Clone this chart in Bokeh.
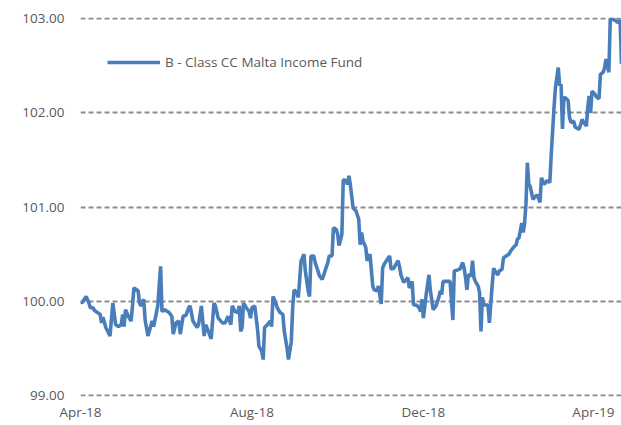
import pandas as pd
from bokeh.plotting import figure
from bokeh.models import Range1d, FixedTicker, PrintfTickFormatter, DatetimeTickFormatter, Legend, LegendItem, ColumnDataSource
from bokeh.embed import file_html
from bokeh.resources import INLINE

series_name = "B - Class CC Malta Income Fund"
start_date = "2018-04-01"

# day offset from 2018-04-01
day_offsets = [
    0, 1, 4, 6, 7, 9, 10, 12, 14, 15, 16, 18, 21, 23, 25, 27, 29, 30, 31, 32,
    34, 36, 37, 38, 41, 42, 43, 45, 46, 48, 51, 52, 55, 57, 58, 60, 63, 65, 66, 68,
    70, 71, 73, 75, 77, 78, 80, 83, 84, 86, 88, 89, 91, 93, 95, 96, 98, 101, 103, 105,
    107, 108, 110, 112, 113, 114, 115, 116, 118, 120, 121, 122, 124, 126, 127, 129, 130, 131, 133, 135,
    136, 137, 139, 140, 142, 144, 145, 147, 148, 150, 151, 152, 154, 155, 157, 158, 159, 160, 162, 163,
    164, 166, 167, 169, 170, 172, 174, 176, 177, 179, 180, 182, 183, 184, 186, 187, 189, 190, 191, 192,
    194, 196, 198, 199, 200, 201, 203, 204, 206, 208, 209, 211, 212, 214, 215, 216, 219, 220, 221, 223,
    226, 227, 228, 230, 232, 233, 234, 236, 237, 239, 241, 242, 243, 244, 246, 248, 249, 251, 253, 255,
    256, 257, 258, 261, 263, 265, 266, 268, 270, 272, 273, 274, 275, 276, 278, 279, 280, 281, 283, 284,
    285, 286, 287, 288, 290, 291, 293, 294, 295, 297, 298, 300, 301, 303, 305, 306, 307, 308, 310, 311,
    312, 314, 315, 316, 317, 318, 319, 320, 322, 323, 325, 327, 328, 330, 331, 332, 334, 335, 337, 338,
    340, 341, 342, 343, 344, 345, 347, 348, 349, 351, 352, 354, 355, 357, 358, 360, 361, 362, 363, 364,
    366, 367, 369, 370, 372, 373, 374, 376, 377, 379, 381, 382, 384, 385,
]

nav_values = [
    100.00, 99.98, 100.05, 99.98, 99.93, 99.93, 99.90, 99.88, 99.86, 99.77, 99.83, 99.72, 99.63, 99.98, 99.75, 99.73, 99.75, 99.86, 99.73, 99.91,
    99.84, 99.79, 99.95, 100.14, 100.11, 99.98, 99.95, 100.02, 99.80, 99.63, 99.79, 99.73, 99.95, 100.37, 99.89, 99.91, 99.88, 99.84, 99.65, 99.77,
    99.79, 99.65, 99.84, 99.85, 99.93, 99.95, 99.79, 99.72, 99.75, 99.95, 99.63, 99.75, 99.68, 99.60, 99.98, 99.95, 99.82, 99.77, 99.77, 99.84,
    99.75, 99.95, 99.89, 99.88, 99.95, 99.68, 99.72, 99.98, 99.93, 99.89, 99.82, 99.93, 99.95, 99.70, 99.52, 99.47, 99.38, 99.72, 99.75, 99.79,
    99.73, 100.05, 99.98, 99.93, 99.88, 99.86, 99.68, 99.50, 99.38, 99.57, 99.93, 100.12, 100.09, 100.04, 100.43, 100.46, 100.50, 100.32, 100.11, 100.05,
    100.48, 100.48, 100.41, 100.32, 100.27, 100.23, 100.32, 100.41, 100.48, 100.48, 100.78, 100.76, 100.71, 100.59, 100.71, 101.29, 101.28, 101.24, 101.33, 101.24,
    100.99, 100.96, 100.87, 100.60, 100.73, 100.64, 100.57, 100.43, 100.50, 100.16, 100.12, 100.11, 100.16, 99.97, 100.35, 100.39, 100.46, 100.48, 100.34, 100.35,
    100.43, 100.37, 100.28, 100.20, 100.23, 100.25, 100.14, 100.21, 99.96, 99.96, 99.93, 99.89, 100.02, 99.82, 100.07, 100.28, 100.11, 99.91, 99.95, 100.04,
    100.11, 100.07, 100.21, 100.21, 100.21, 99.80, 100.32, 100.33, 100.34, 100.41, 100.35, 100.25, 100.12, 100.28, 100.27, 100.43, 100.25, 100.21, 100.16, 100.09,
    99.68, 100.04, 99.96, 99.96, 99.96, 99.77, 100.18, 100.35, 100.32, 100.28, 100.32, 100.34, 100.46, 100.48, 100.50, 100.53, 100.55, 100.57, 100.60, 100.66,
    100.67, 100.83, 100.73, 100.82, 101.03, 101.47, 101.24, 101.22, 101.08, 101.10, 101.13, 101.05, 101.31, 101.24, 101.26, 101.28, 101.26, 101.56, 102.06, 102.27,
    102.48, 102.29, 102.30, 101.83, 102.16, 102.16, 102.13, 101.95, 101.90, 101.91, 101.85, 101.83, 101.83, 101.93, 101.90, 101.86, 102.06, 102.18, 102.00, 102.23,
    102.20, 102.17, 102.15, 102.41, 102.43, 102.48, 102.57, 102.43, 102.99, 102.99, 102.98, 102.96, 102.98, 102.52,
]

tick_dates = ["2018-04-01", "2018-08-01", "2018-12-01", "2019-04-01"]
y_ticks = [99, 100, 101, 102, 103]
y_min, y_max = 99, 103

start = pd.Timestamp(start_date)
dates = [start + pd.Timedelta(days=d) for d in day_offsets]
src = ColumnDataSource(dict(date=dates, nav=nav_values))

x_start = start
x_end = start + pd.Timedelta(days=385)

FONT = "Open Sans"
TXT = "#595959"

p = figure(width=621, height=425, x_axis_type="datetime",
           x_range=Range1d(x_start, x_end), y_range=Range1d(y_min - 0.012, y_max + 0.012),
           output_backend="svg", toolbar_location=None,
           min_border_left=80, min_border_right=0, min_border_top=17, min_border_bottom=29)
p.outline_line_color = None
p.background_fill_color = "white"
p.border_fill_color = "white"

r = p.line("date", "nav", source=src, line_color="#4A7EBB", line_width=3.6)

# y axis
p.yaxis.ticker = FixedTicker(ticks=y_ticks)
p.yaxis.formatter = PrintfTickFormatter(format="%.2f")
p.yaxis.axis_line_color = None
p.yaxis.major_tick_line_color = None
p.yaxis.minor_tick_line_color = None
p.yaxis.major_tick_out = 0
p.yaxis.major_label_standoff = 16
p.yaxis.major_label_text_font = FONT
p.yaxis.major_label_text_font_size = "13.5px"
p.yaxis.major_label_text_color = TXT

# x axis
tick_ms = [pd.Timestamp(t).value // 10**6 for t in tick_dates]
p.xaxis.ticker = FixedTicker(ticks=tick_ms)
fmt = "%b-%y"
p.xaxis.formatter = DatetimeTickFormatter(milliseconds=fmt, seconds=fmt, minsec=fmt, minutes=fmt,
                                          hourmin=fmt, hours=fmt, days=fmt, months=fmt, years=fmt)
p.xaxis.axis_line_color = None
p.xaxis.major_tick_line_color = None
p.xaxis.minor_tick_line_color = None
p.xaxis.major_tick_out = 0
p.xaxis.major_label_standoff = 6
p.xaxis.major_label_text_font = FONT
p.xaxis.major_label_text_font_size = "13.5px"
p.xaxis.major_label_text_color = TXT

# grid
p.xgrid.grid_line_color = None
p.ygrid.grid_line_color = "#8C8C8C"
p.ygrid.grid_line_width = 2
p.ygrid.grid_line_dash = "5 3"

legend = Legend(items=[LegendItem(label=series_name, renderers=[r])], location=(27, 324))
legend.border_line_alpha = 0
legend.background_fill_alpha = 0
legend.padding = 0
legend.margin = 0
legend.glyph_width = 53
legend.glyph_height = 20
legend.label_standoff = 5
legend.label_text_font = FONT
legend.label_text_font_size = "13.5px"
legend.label_text_color = TXT
p.add_layout(legend)

open("out.html", "w").write(file_html(p, INLINE))
